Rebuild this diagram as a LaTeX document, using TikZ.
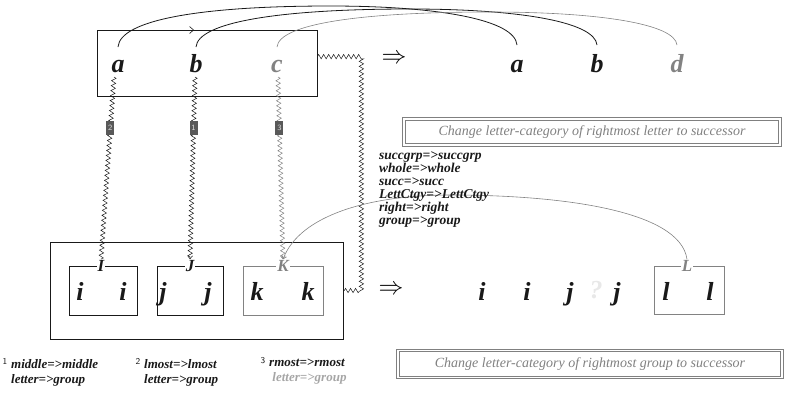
\documentclass[tikz,border=0pt]{standalone}
\usepackage{fontspec}
\setmainfont{Liberation Serif}
\usetikzlibrary{decorations.pathmorphing,arrows.meta,calc}
\definecolor{lgray}{RGB}{130,130,130}
\definecolor{ink}{RGB}{25,25,25}
\begin{document}
\begin{tikzpicture}[x=1pt,y=-1pt,
  letter/.style={font=\fontsize{26}{26}\selectfont\bfseries\itshape, inner sep=0pt, anchor=base, text=ink},
  lab/.style={font=\fontsize{17}{17}\selectfont\bfseries\itshape, inner sep=1pt, fill=white, text=ink},
  wavy/.style={decorate, decoration={zigzag, segment length=5pt, amplitude=2.2pt}, line width=0.5pt, draw=ink},
  box/.style={draw=ink, line width=0.8pt, minimum width=#1, inner sep=0pt},
  tag/.style={fill=gray!70!black, text=gray!25, font=\fontsize{8}{8}\selectfont\sffamily, inner sep=0.5pt, minimum width=8pt, minimum height=14pt},
  desc/.style={draw=gray, double=white, double distance=1.6pt, line width=0.8pt, font=\fontsize{14}{14}\selectfont\itshape, text=gray, inner sep=0pt},
  small/.style={font=\fontsize{13.5}{13}\selectfont\bfseries\itshape, align=left, inner sep=0pt, anchor=north west, text=ink},
  note/.style={font=\fontsize{13}{15}\selectfont\bfseries\itshape, align=left, inner sep=0pt, anchor=north west, text=ink},
  sup/.style={font=\fontsize{9}{9}\selectfont\sffamily, inner sep=0pt, text=ink},
  arc/.style={line width=0.8pt, draw=ink},
  dbl/.style={font=\fontsize{30}{30}\selectfont, inner sep=0pt}]
\useasboundingbox (0,0) rectangle (785,392);

% top box and letters
\node[box=220pt, minimum height=66pt] (top) at (207,63) {};
\node[letter] (a) at (118,72) {a};
\node[letter] (b) at (196,72) {b};
\node[letter, text=lgray] (c) at (277,72) {c};
\node[dbl] (arr1) at (394,59) {$\Rightarrow$};
\node[letter] (a2) at (517,72) {a};
\node[letter] (b2) at (597,72) {b};
\node[letter, text=lgray] (d2) at (677,72) {d};

% arcs
\coordinate (as) at (118,47); \coordinate (ae) at (517,45);
\coordinate (bs) at (196,47); \coordinate (be) at (597,45);
\coordinate (cs) at (277,47); \coordinate (ce) at (677,45);
\draw[arc] (as) .. controls (120,20) and (200,6) .. (330,6) .. controls (440,6) and (515,20) .. (ae);
\draw[arc] (bs) .. controls (198,22) and (280,9) .. (410,9) .. controls (520,9) and (595,22) .. (be);
\draw[arc, draw=lgray, line width=0.6pt] (cs) .. controls (279,24) and (360,12) .. (490,12) .. controls (600,12) and (675,24) .. (ce);
\coordinate (tk1) at (184,30); \coordinate (tk2) at (194,30);
\draw[ink, line width=0.6pt, -{Straight Barb[length=4pt,width=7pt]}] (tk1) -- (tk2);

% bottom boxes
\node[box=293pt, minimum height=97pt] (outer) at (196.5,290.5) {};
\node[box=68pt, minimum height=49pt] (Ibox) at (103,290.5) {};
\node[box=66pt, minimum height=49pt] (Jbox) at (190,290.5) {};
\node[box=80pt, minimum height=49pt, draw=lgray] (Kbox) at (283,290.5) {};
\node[lab] (I) at (101,266) {I};
\node[lab] (J) at (190,266) {J};
\node[lab, text=lgray] (K) at (283,266) {K};
\node[letter] (i1) at (80,300) {i};
\node[letter] (i2) at (123,300) {i};
\node[letter] (j1) at (163,300) {j};
\node[letter] (j2) at (208,300) {j};
\node[letter] (k1) at (257,300) {k};
\node[letter] (k2) at (308,300) {k};
\node[dbl] (arr2) at (391,290) {$\Rightarrow$};
\node[letter] (i3) at (482,300) {i};
\node[letter] (i4) at (527,300) {i};
\node[letter] (j3) at (570,300) {j};
\node[letter, text=gray!18] (q) at (596,298) {?};
\node[letter] (j4) at (617,300) {j};
\node[box=70pt, minimum height=48pt, draw=lgray] (Lbox) at (689,290) {};
\node[lab, text=lgray] (L) at (687,266) {L};
\node[letter] (l1) at (666,300) {l};
\node[letter] (l2) at (710,300) {l};

% wavy connectors
\coordinate (wa) at (114,77); \coordinate (wb) at (195,77); \coordinate (wc) at (278,77);
\draw[wavy] (wa) -- (I.north);
\draw[wavy, -{Straight Barb[length=3pt,width=5pt]}] (wb) -- (J.north);
\draw[wavy, draw=lgray, -{Straight Barb[length=3pt,width=5pt]}] (wc) -- (K.north);
\node[tag] (t2) at ($(wa)!0.28!(I.north)$) {2};
\node[tag] (t1) at ($(wb)!0.28!(J.north)$) {1};
\node[tag] (t3) at ($(wc)!0.28!(K.north)$) {3};
\coordinate (rs) at ($(top.north east)+(0,27)$);
\coordinate (rc) at ($(outer.east)+(18,0)$);
\draw[wavy] (rs) -| (rc) -- (outer.east);

% gray curve K - L
\draw[lgray, line width=0.6pt, -{Straight Barb[length=3pt,width=5pt]}] (L.north) .. controls (680,210) and (560,195) .. (450,195) .. controls (370,195) and (300,215) .. (K.north);

% text block
\node[small] (rules) at (379,151) {succgrp=>succgrp\\whole=>whole\\succ=>succ\\LettCtgy=>LettCtgy\\right=>right\\group=>group};

% description boxes
\node[desc, minimum width=376pt, minimum height=26pt] (d1) at (592,132) {Change letter-category of rightmost letter to successor};
\node[desc, minimum width=384pt, minimum height=27pt] (d2) at (590,364) {Change letter-category of rightmost group to successor};

% bottom notes
\node[sup] (s1) at (5,361) {1};
\node[note] (m1) at (11,359) {middle=>middle\\letter=>group};
\node[sup] (s2) at (138,361) {2};
\node[note] (m2) at (144,359) {lmost=>lmost\\letter=>group};
\node[sup] (s3) at (263,361) {3};
\node[note] (m3) at (269,359) {rmost=>rmost\\\textcolor{gray!70}{\ letter=>group}};
\end{tikzpicture}
\end{document}
